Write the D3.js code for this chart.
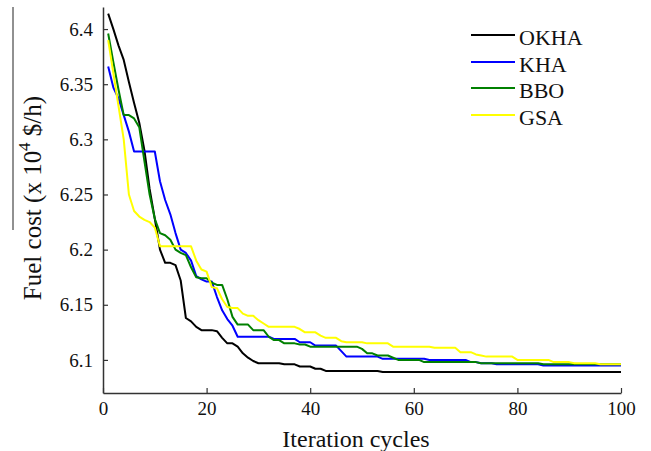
<!DOCTYPE html>
<html>
<head>
<meta charset="utf-8">
<script src="https://cdn.jsdelivr.net/npm/d3@7"></script>
<style>
  html, body { margin: 0; padding: 0; background: #fff; }
  svg { display: block; }
  svg text { font-family: "Liberation Serif", "DejaVu Serif", serif !important; }
</style>
</head>
<body>
<svg id="chart" width="651" height="451"></svg>
<script>
const seriesNames = ["OKHA", "KHA", "BBO", "GSA"];
const seriesColors = ["#000000", "#0000ff", "#008000", "#ffff00"];
const xTicks = [0, 20, 40, 60, 80, 100];
const yTicks = [6.1, 6.15, 6.2, 6.25, 6.3, 6.35, 6.4];
const yTickLabels = ["6.1", "6.15", "6.2", "6.25", "6.3", "6.35", "6.4"];
const xLabel = "Iteration cycles";

const okha = [6.414, 6.400, 6.385, 6.372, 6.352, 6.333, 6.315, 6.290, 6.255, 6.228,
  6.200, 6.188, 6.188, 6.186, 6.172, 6.138, 6.135, 6.130, 6.127, 6.127,
  6.127, 6.126, 6.120, 6.115, 6.115, 6.112, 6.106, 6.102, 6.099, 6.097,
  6.097, 6.097, 6.097, 6.097, 6.096, 6.096, 6.096, 6.094, 6.094, 6.094,
  6.092, 6.092, 6.090, 6.090, 6.090, 6.090, 6.090, 6.090, 6.090, 6.090,
  6.090, 6.090, 6.090, 6.089, 6.089, 6.089, 6.089, 6.089, 6.089, 6.089,
  6.089, 6.089, 6.089, 6.089, 6.089, 6.089, 6.089, 6.089, 6.089, 6.089,
  6.089, 6.089, 6.089, 6.089, 6.089, 6.089, 6.089, 6.089, 6.089, 6.089,
  6.089, 6.089, 6.089, 6.089, 6.089, 6.089, 6.089, 6.089, 6.089, 6.089,
  6.089, 6.089, 6.089, 6.089, 6.089, 6.089, 6.089, 6.089, 6.089, 6.089];

const kha = [6.366, 6.347, 6.337, 6.322, 6.307, 6.289, 6.289, 6.289, 6.289, 6.289,
  6.262, 6.245, 6.232, 6.215, 6.200, 6.197, 6.190, 6.176, 6.173, 6.171,
  6.171, 6.157, 6.145, 6.137, 6.131, 6.121, 6.121, 6.121, 6.121, 6.121,
  6.121, 6.121, 6.119, 6.119, 6.119, 6.119, 6.119, 6.116, 6.116, 6.116,
  6.113, 6.113, 6.113, 6.113, 6.113, 6.108, 6.103, 6.103, 6.103, 6.103,
  6.103, 6.103, 6.103, 6.101, 6.101, 6.101, 6.101, 6.101, 6.101, 6.101,
  6.101, 6.101, 6.100, 6.100, 6.100, 6.100, 6.100, 6.100, 6.100, 6.100,
  6.098, 6.098, 6.097, 6.097, 6.097, 6.096, 6.096, 6.096, 6.096, 6.096,
  6.096, 6.096, 6.096, 6.096, 6.095, 6.095, 6.095, 6.095, 6.095, 6.095,
  6.095, 6.095, 6.095, 6.095, 6.095, 6.095, 6.095, 6.095, 6.095, 6.095];

const bbo = [6.396, 6.370, 6.345, 6.322, 6.322, 6.319, 6.311, 6.280, 6.250, 6.228,
  6.215, 6.213, 6.209, 6.200, 6.197, 6.195, 6.184, 6.175, 6.174, 6.174,
  6.170, 6.168, 6.168, 6.155, 6.139, 6.132, 6.132, 6.132, 6.127, 6.127,
  6.127, 6.121, 6.118, 6.118, 6.115, 6.115, 6.115, 6.114, 6.114, 6.112,
  6.112, 6.112, 6.112, 6.112, 6.112, 6.112, 6.112, 6.112, 6.112, 6.110,
  6.106, 6.106, 6.104, 6.104, 6.104, 6.102, 6.100, 6.100, 6.100, 6.100,
  6.100, 6.098, 6.098, 6.098, 6.098, 6.098, 6.098, 6.098, 6.098, 6.098,
  6.098, 6.098, 6.097, 6.097, 6.097, 6.097, 6.097, 6.097, 6.097, 6.097,
  6.097, 6.097, 6.097, 6.097, 6.096, 6.096, 6.096, 6.096, 6.096, 6.096,
  6.096, 6.096, 6.096, 6.096, 6.096, 6.096, 6.096, 6.096, 6.096, 6.096];

const gsa = [6.390, 6.360, 6.330, 6.300, 6.250, 6.235, 6.230, 6.227, 6.225, 6.220,
  6.203, 6.203, 6.203, 6.203, 6.203, 6.203, 6.203, 6.190, 6.182, 6.180,
  6.166, 6.165, 6.155, 6.148, 6.147, 6.147, 6.142, 6.140, 6.140, 6.136,
  6.133, 6.130, 6.130, 6.130, 6.130, 6.130, 6.130, 6.128, 6.125, 6.125,
  6.125, 6.122, 6.120, 6.120, 6.120, 6.117, 6.116, 6.116, 6.116, 6.116,
  6.115, 6.115, 6.115, 6.115, 6.115, 6.112, 6.112, 6.112, 6.112, 6.112,
  6.112, 6.112, 6.112, 6.111, 6.111, 6.111, 6.111, 6.111, 6.107, 6.107,
  6.107, 6.105, 6.104, 6.103, 6.103, 6.103, 6.103, 6.103, 6.103, 6.100,
  6.100, 6.100, 6.100, 6.100, 6.100, 6.100, 6.098, 6.098, 6.098, 6.098,
  6.097, 6.097, 6.097, 6.097, 6.097, 6.096, 6.096, 6.096, 6.096, 6.096];

const seriesValues = [okha, kha, bbo, gsa];

const svg = d3.select("#chart");
const x = d3.scaleLinear().domain([0, 100]).range([103, 621]);
const y = d3.scaleLinear().domain([6.07, 6.42]).range([393, 7]);
const axisColor = "#333";
const serif = "Liberation Serif";

// lines
const line = d3.line()
  .x((d, i) => x(i + 1))
  .y(d => y(d));

seriesValues.forEach((vals, k) => {
  svg.append("path")
    .datum(vals)
    .attr("fill", "none")
    .attr("stroke", seriesColors[k])
    .attr("stroke-width", 2)
    .attr("stroke-linejoin", "round")
    .attr("d", line);
});

// axes
const yAxis = d3.axisLeft(y)
  .tickValues(yTicks)
  .tickFormat((d, i) => yTickLabels[i])
  .tickSizeInner(-5)
  .tickSizeOuter(0)
  .tickPadding(10);
const gy = svg.append("g").attr("transform", "translate(103,0)").call(yAxis);

const xAxis = d3.axisBottom(x)
  .tickValues(xTicks)
  .tickSizeInner(-5)
  .tickSizeOuter(0)
  .tickPadding(9);
const gx = svg.append("g").attr("transform", "translate(0,393)").call(xAxis);

[gx, gy].forEach(g => {
  g.attr("font-family", serif).attr("font-size", 19);
  g.select(".domain").attr("stroke", axisColor).attr("stroke-width", 1.5);
  g.selectAll(".tick line").attr("stroke", axisColor).attr("stroke-width", 1.2);
  g.selectAll(".tick text").attr("fill", "#111");
});

// x label
svg.append("text")
  .attr("x", 356)
  .attr("y", 447)
  .attr("text-anchor", "middle")
  .attr("font-family", serif)
  .attr("font-size", 24)
  .attr("fill", "#111")
  .text(xLabel);

// y label
const yl = svg.append("text")
  .attr("transform", "translate(41,198) rotate(-90)")
  .attr("text-anchor", "middle")
  .attr("font-family", serif)
  .attr("font-size", 25)
  .attr("fill", "#111");
yl.append("tspan").text("Fuel cost (x 10");
yl.append("tspan").attr("dy", -11).attr("font-size", 17).text("4");
yl.append("tspan").attr("dy", 11).text(" $/h)");

// stray rule beside y label
svg.append("line")
  .attr("x1", 13).attr("x2", 13)
  .attr("y1", 7).attr("y2", 230)
  .attr("stroke", "#222").attr("stroke-width", 1);

// legend
const legendY = [35, 62, 88, 115];
seriesNames.forEach((name, k) => {
  svg.append("line")
    .attr("x1", 471).attr("x2", 515)
    .attr("y1", legendY[k]).attr("y2", legendY[k])
    .attr("stroke", seriesColors[k])
    .attr("stroke-width", 2);
  svg.append("text")
    .attr("x", 519)
    .attr("y", legendY[k] + 9.5)
    .attr("font-family", serif)
    .attr("font-size", 22)
    .attr("fill", "#111")
    .text(name);
});
</script>
</body>
</html>
